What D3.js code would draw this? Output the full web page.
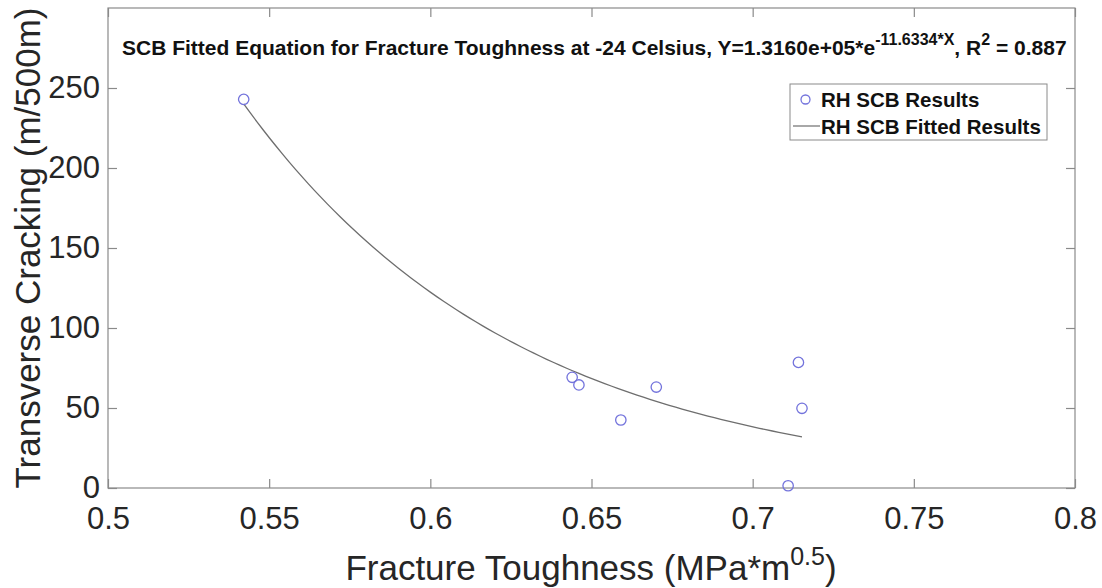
<!DOCTYPE html>
<html>
<head>
<meta charset="UTF-8">
<script src="https://d3js.org/d3.v7.min.js"></script>
<style>
  body { margin: 0; background: #fff; }
  text { font-family: "Liberation Sans", Arial, Helvetica, sans-serif; }
</style>
</head>
<body>
<svg width="1102" height="588"></svg>
<script>
// data
var toughness = [0.5421, 0.6440, 0.6461, 0.6591, 0.6701, 0.7110, 0.7142, 0.7153];
var cracking = [242.9, 69.2, 64.4, 42.5, 63.1, 1.4, 78.5, 49.8];
var xTicks = [0.5, 0.55, 0.6, 0.65, 0.7, 0.75, 0.8];
var yTicks = [0, 50, 100, 150, 200, 250];
// fitted equation from the title: Y = a * e^(b*X)
var fitA = 1.3160e+05, fitB = -11.6334;
var fitRange = [0.5421, 0.7153];

var svg = d3.select("svg");
var plotL = 108, plotR = 1075, plotT = 8, plotB = 488;

var x = d3.scaleLinear().domain([0.5, 0.8]).range([plotL, plotR]);
var y = d3.scaleLinear().domain([0, 300]).range([plotB, plotT]);

var axisColor = "#8a8a8a", labelColor = "#262626";

// box + ticks on all four sides
svg.append("rect")
  .attr("x", plotL).attr("y", plotT)
  .attr("width", plotR - plotL).attr("height", plotB - plotT)
  .attr("fill", "none").attr("stroke", axisColor).attr("stroke-width", 1.2);

function styleAxis(g) {
  g.select(".domain").remove();
  g.selectAll(".tick line").attr("stroke", axisColor).attr("stroke-width", 1.2);
  g.selectAll(".tick text").attr("fill", labelColor).attr("font-size", "31px");
}

svg.append("g")
  .attr("transform", "translate(0," + plotB + ")")
  .call(d3.axisBottom(x).tickValues(xTicks).tickSize(-9).tickPadding(19).tickFormat(d3.format("")))
  .call(styleAxis);
svg.append("g")
  .attr("transform", "translate(0," + plotT + ")")
  .call(d3.axisTop(x).tickValues(xTicks).tickSize(-9).tickFormat(""))
  .call(styleAxis);
svg.append("g")
  .attr("transform", "translate(" + plotL + ",0)")
  .call(d3.axisLeft(y).tickValues(yTicks).tickSize(-9).tickPadding(8))
  .call(styleAxis);
svg.append("g")
  .attr("transform", "translate(" + plotR + ",0)")
  .call(d3.axisRight(y).tickValues(yTicks).tickSize(-9).tickFormat(""))
  .call(styleAxis);

// fitted curve
var fitX = d3.range(fitRange[0], fitRange[1], 0.002).concat([fitRange[1]]);
var line = d3.line()
  .x(function(d) { return x(d); })
  .y(function(d) { return y(fitA * Math.exp(fitB * d)); });
svg.append("path")
  .datum(fitX)
  .attr("d", line)
  .attr("fill", "none")
  .attr("stroke", "#6e6e6e")
  .attr("stroke-width", 1.3);

// measured points
svg.selectAll(".pt")
  .data(toughness)
  .enter()
  .append("circle")
  .attr("class", "pt")
  .attr("cx", function(d) { return x(d); })
  .attr("cy", function(d, i) { return y(cracking[i]); })
  .attr("r", 5.2)
  .attr("fill", "none")
  .attr("stroke", "#7373dc")
  .attr("stroke-width", 1.3);

// title
var title = svg.append("text")
  .attr("x", 122).attr("y", 55)
  .attr("font-size", "21px").attr("font-weight", "bold").attr("fill", "#111");
title.append("tspan").text("SCB Fitted Equation for Fracture Toughness at -24 Celsius, Y=1.3160e+05*e");
title.append("tspan").attr("dy", -10).attr("font-size", "16px").text("-11.6334*X");
title.append("tspan").attr("dy", 10).text(", R");
title.append("tspan").attr("dy", -10).attr("font-size", "16px").text("2");
title.append("tspan").attr("dy", 10).text(" = 0.887");

// legend
var lg = svg.append("g");
lg.append("rect")
  .attr("x", 790).attr("y", 84).attr("width", 257).attr("height", 56)
  .attr("fill", "#fff").attr("stroke", "#8a8a8a").attr("stroke-width", 1);
lg.append("circle")
  .attr("cx", 805.5).attr("cy", 99.5).attr("r", 4.5)
  .attr("fill", "none").attr("stroke", "#7373dc").attr("stroke-width", 1.3);
lg.append("line")
  .attr("x1", 793).attr("x2", 820).attr("y1", 126).attr("y2", 126)
  .attr("stroke", "#6e6e6e").attr("stroke-width", 1.2);
lg.append("text").attr("x", 821).attr("y", 107)
  .attr("font-size", "20.5px").attr("font-weight", "bold").attr("fill", "#111")
  .text("RH SCB Results");
lg.append("text").attr("x", 821).attr("y", 134)
  .attr("font-size", "20.5px").attr("font-weight", "bold").attr("fill", "#111")
  .text("RH SCB Fitted Results");

// axis labels
var xl = svg.append("text")
  .attr("x", 591).attr("y", 580)
  .attr("text-anchor", "middle")
  .attr("font-size", "35px").attr("fill", labelColor);
xl.append("tspan").text("Fracture Toughness (MPa*m");
xl.append("tspan").attr("dy", -15).attr("font-size", "25px").text("0.5");
xl.append("tspan").attr("dy", 15).text(")");

svg.append("text")
  .attr("transform", "translate(40,248) rotate(-90)")
  .attr("text-anchor", "middle")
  .attr("font-size", "35px").attr("fill", labelColor)
  .text("Transverse Cracking (m/500m)");
</script>
</body>
</html>
